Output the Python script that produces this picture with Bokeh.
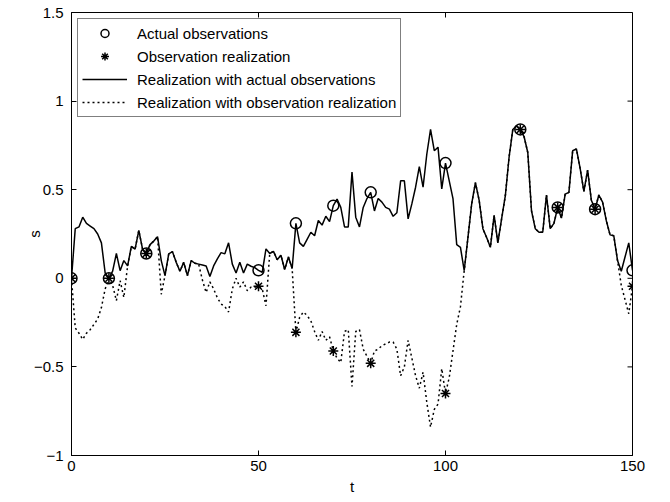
import math
from bokeh.plotting import figure
from bokeh.models import Range1d, FixedTicker, Legend, LegendItem
from bokeh.embed import file_html
from bokeh.resources import INLINE

# ---- data ----
t = list(range(151))

s_actual = [
    0.0, 0.28, 0.29, 0.345, 0.31, 0.295, 0.28, 0.25, 0.2, 0.03,
    0.0, 0.04, 0.14, 0.043, 0.1, 0.07, 0.18, 0.165, 0.27, 0.165,
    0.14, 0.19, 0.21, 0.235, 0.1, 0.015, 0.138, 0.15, 0.09, 0.04,
    0.09, 0.015, 0.1, 0.085, 0.08, 0.075, 0.07, 0.01, 0.07, 0.11,
    0.145, 0.138, 0.2, 0.08, 0.03, 0.09, 0.03, 0.08, 0.068, 0.06,
    0.045, 0.034, 0.166, 0.14, 0.152, 0.105, 0.13, 0.05, 0.12, 0.055,
    0.31, 0.2, 0.18, 0.22, 0.26, 0.24, 0.326, 0.3, 0.35, 0.32,
    0.41, 0.447, 0.4, 0.29, 0.29, 0.6, 0.345, 0.29, 0.4, 0.45,
    0.485, 0.38, 0.45, 0.43, 0.4, 0.39, 0.35, 0.37, 0.55, 0.55,
    0.335, 0.42, 0.514, 0.63, 0.514, 0.7, 0.84, 0.72, 0.74, 0.505,
    0.65, 0.55, 0.45, 0.19, 0.175, 0.043, 0.23, 0.42, 0.54, 0.44,
    0.28, 0.23, 0.175, 0.355, 0.2, 0.335, 0.466, 0.683, 0.84, 0.86,
    0.84, 0.8, 0.71, 0.38, 0.28, 0.26, 0.26, 0.47, 0.28, 0.31,
    0.40, 0.34, 0.475, 0.485, 0.72, 0.73, 0.62, 0.49, 0.61, 0.44,
    0.39, 0.47, 0.43, 0.325, 0.245, 0.24, 0.1, 0.04, 0.12, 0.2,
    0.045,
]

s_realized = [
    0.0, -0.28, -0.31, -0.345, -0.31, -0.29, -0.26, -0.23, -0.165, -0.06,
    0.0, -0.04, -0.126, -0.013, -0.108, 0.07, 0.18, 0.165, 0.27, 0.165,
    0.14, 0.19, 0.21, 0.235, -0.09, 0.015, 0.138, 0.15, 0.09, 0.04,
    0.09, 0.015, 0.1, 0.085, 0.08, -0.01, -0.08, -0.02, -0.06, -0.11,
    -0.145, -0.16, -0.19, -0.06, 0.0, -0.05, -0.02, -0.07, -0.05, -0.05,
    -0.045, -0.06, -0.155, 0.14, 0.152, 0.105, 0.13, 0.05, 0.12, 0.055,
    -0.305, -0.22, -0.19, -0.21, -0.24, -0.3, -0.35, -0.3, -0.35, -0.33,
    -0.41, -0.45, -0.475, -0.3, -0.29, -0.61, -0.3, -0.29, -0.4, -0.44,
    -0.48, -0.41, -0.4, -0.38, -0.37, -0.36, -0.36, -0.4, -0.55, -0.5,
    -0.35, -0.45, -0.55, -0.62, -0.53, -0.7, -0.84, -0.74, -0.71, -0.51,
    -0.65, -0.56, -0.41, -0.26, -0.16, 0.043, 0.23, 0.42, 0.54, 0.44,
    0.28, 0.23, 0.175, 0.355, 0.2, 0.335, 0.466, 0.683, 0.84, 0.86,
    0.84, 0.8, 0.71, 0.38, 0.28, 0.26, 0.26, 0.47, 0.28, 0.31,
    0.40, 0.34, 0.475, 0.485, 0.72, 0.73, 0.62, 0.49, 0.61, 0.44,
    0.39, 0.47, 0.43, 0.325, 0.245, 0.24, 0.1, -0.04, -0.12, -0.2,
    -0.045,
]

obs_t = [0, 10, 20, 50, 60, 70, 80, 100, 120, 130, 140, 150]
obs_actual = [0.0, 0.0, 0.14, 0.045, 0.31, 0.41, 0.485, 0.65, 0.84, 0.40, 0.39, 0.045]
obs_realized = [0.0, 0.0, 0.14, -0.045, -0.305, -0.41, -0.48, -0.65, 0.84, 0.40, 0.39, -0.045]

x_ticks = [0, 50, 100, 150]
y_ticks = [-1, -0.5, 0, 0.5, 1, 1.5]
y_tick_labels = {-1: "\u22121", -0.5: "\u22120.5", 0: "0", 0.5: "0.5", 1: "1", 1.5: "1.5"}

X_MIN, X_MAX = 0, 150
Y_MIN, Y_MAX = -1, 1.5
FONT = "Liberation Sans"

p = figure(width=670, height=502, x_range=Range1d(X_MIN, X_MAX), y_range=Range1d(Y_MIN, Y_MAX),
           output_backend="svg", toolbar_location=None,
           min_border_left=71, min_border_right=38, min_border_top=12, min_border_bottom=47)
p.background_fill_color = "white"
p.border_fill_color = "white"
p.outline_line_color = "black"
p.outline_line_width = 1
p.xgrid.visible = False
p.ygrid.visible = False

xa = p.xaxis[0]
xa.ticker = FixedTicker(ticks=x_ticks)
xa.axis_label = "t"
ya = p.yaxis[0]
ya.ticker = FixedTicker(ticks=y_ticks)
ya.major_label_overrides = y_tick_labels
ya.axis_label = "s"

for ax in (xa, ya):
    ax.major_tick_in = 5
    ax.major_tick_out = 0
    ax.minor_tick_line_color = None
    ax.axis_line_color = "black"
    ax.major_tick_line_color = "black"
    ax.major_label_text_font = FONT
    ax.major_label_text_font_size = "15px"
    ax.major_label_text_color = "black"
    ax.axis_label_text_font = FONT
    ax.axis_label_text_font_size = "15px"
    ax.axis_label_text_font_style = "normal"
    ax.axis_label_text_color = "black"
xa.major_label_standoff = 5
xa.axis_label_standoff = 4
ya.major_label_standoff = 8
ya.axis_label_standoff = -12

# box ticks on the top and right edges (half of each dash is clipped by the frame)
p.scatter(x_ticks, [Y_MAX] * len(x_ticks), marker="dash", size=10, angle=math.pi / 2,
          line_color="black", line_width=1)
p.scatter([X_MAX] * len(y_ticks), y_ticks, marker="dash", size=10,
          line_color="black", line_width=1)

r_dot = p.line(t, s_realized, line_color="black", line_width=1.5, line_dash="2 3")
r_solid = p.line(t, s_actual, line_color="black", line_width=1.5)
r_circ = p.scatter(obs_t, obs_actual, marker="circle", size=11, fill_color=None,
                   line_color="black", line_width=1.5)
r_star = p.scatter(obs_t, obs_realized, marker="asterisk", size=10,
                   line_color="black", line_width=1.5)

legend = Legend(items=[
    LegendItem(label="Actual observations", renderers=[r_circ]),
    LegendItem(label="Observation realization", renderers=[r_star]),
    LegendItem(label="Realization with actual observations", renderers=[r_solid]),
    LegendItem(label="Realization with observation realization", renderers=[r_dot]),
], location="top_left")
legend.margin = 6
legend.padding = 4
legend.spacing = 3
legend.glyph_width = 45
legend.glyph_height = 20
legend.label_height = 20
legend.label_standoff = 10
legend.label_text_font = FONT
legend.label_text_font_size = "15px"
legend.label_text_color = "black"
legend.border_line_color = "black"
legend.border_line_width = 1
legend.background_fill_color = "white"
legend.background_fill_alpha = 1
p.add_layout(legend)

open("out.html", "w").write(file_html(p, INLINE))
